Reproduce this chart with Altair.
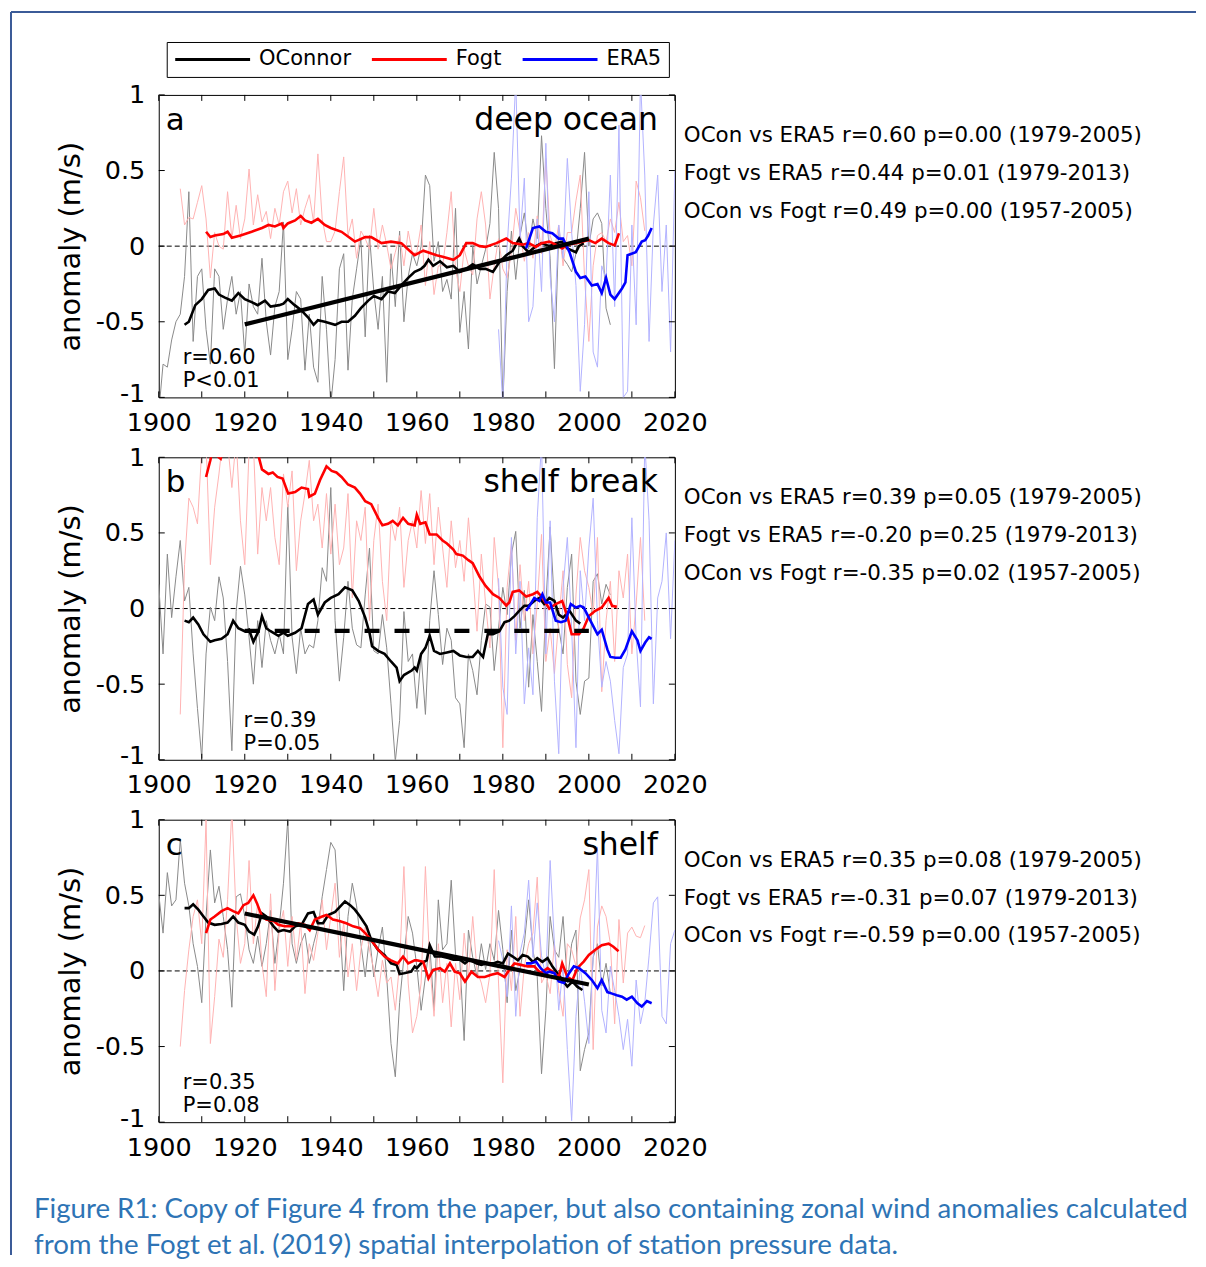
import altair as alt
import pandas as pd

# ---------------- data ----------------
SERIES = ["OConnor", "Fogt", "ERA5"]
YEAR_TICKS = list(range(1900, 2021, 10))
YEAR_LABELS = list(range(1900, 2021, 20))
Y_TICKS = [-1, -0.5, 0, 0.5, 1]
TREND_YEARS = [1920, 2000]

OC_START, FO_START, ER_START = 1900, 1905, 1979

# ---- panel a : deep ocean ----
A_OC_RAW = [-1.10, -0.78, -0.80, -0.62, -0.50, -0.45, -0.20, 0.36, -0.63, -0.20,
            -0.15, -0.55, -0.78, -0.15, -0.20, -0.55, -0.35, -0.20, -0.45, -0.30,
            -0.72, -0.25, -0.40, -0.45, -0.08, -0.50, -0.72, -0.40, -0.30, 0.16,
            -0.75, -0.55, -0.30, -0.35, -0.82, -0.45, -0.80, -0.90, -0.20, -0.55,
            -1.05, -0.75, -0.15, -0.05, -0.82, -0.35, -0.15, 0.05, -0.60, 0.07,
            -0.30, -0.55, -0.20, -0.90, -0.05, -0.40, 0.10, -0.50, -0.20, -0.05,
            -0.13, 0.00, 0.47, 0.40, -0.10, 0.03, -0.30, -0.22, -0.35, 0.25,
            -0.57, -0.30, -0.68, 0.00, -0.25, -0.13, -0.02, 0.15, 0.62, 0.25,
            -1.05, -0.30, 0.10, -0.22, 0.07, 0.22, -0.02, 0.18, 0.05, 0.73,
            0.25, -0.08, -0.81, 0.10, -0.08, -0.12, -0.17, -0.05, 0.25, 0.62,
            0.00, 0.18, 0.22, 0.15, -0.41, -0.52]
A_FO_RAW = [0.38, 0.14, 0.19, 0.18, 0.29,
            0.40, 0.18, -0.21, 0.09, 0.00, -0.02, 0.36, 0.05, 0.27, 0.05,
            0.18, 0.51, 0.14, 0.34, 0.16, 0.23, 0.05, 0.25, 0.14, 0.36,
            0.43, 0.22, 0.38, 0.14, 0.25, 0.34, 0.16, 0.61, 0.18, 0.03,
            0.03, 0.10, 0.36, 0.59, 0.07, 0.18, -0.08, 0.10, 0.05, -0.02,
            0.25, -0.02, 0.14, 0.01, -0.15, -0.04, 0.07, -0.13, 0.10, -0.05,
            -0.04, 0.14, -0.26, 0.03, -0.32, -0.13, -0.13, 0.09, 0.36, -0.15,
            -0.30, -0.02, -0.13, -0.19, 0.18, 0.36, 0.14, -0.35, -0.13, 0.05,
            -0.15, -0.21, -0.04, 0.25, 0.09, -0.10, 0.09, -0.08, 0.20, -0.05,
            0.58, 0.07, -0.02, 0.14, -0.13, 0.09, 0.09, 0.30, 0.47, -0.21,
            -0.63, -0.13, 0.07, 0.09, 0.03, 0.18, 0.09, 0.29, 0.03, 0.07, -0.13, 0.43, 0.32, 0.10]
A_ER_RAW = [-0.55, -1.05, 0.00, 0.45, 1.10, 0.05, 0.45, -0.50, -0.40, 0.18,
            -0.30, 0.68, -0.20, -0.50, 0.14, -0.08, 0.58, 0.09, -0.26, -0.96,
            -0.52, 0.36, -0.70, -0.80, -0.13, -0.22, 0.47, -0.40, 0.80, -1.00,
            -0.96, 0.14, -0.52, 1.10, 0.47, -0.63, 0.14, 0.47, -0.30, 0.14,
            -0.70, 0.50]
A_OC_SM = [(1906, -0.52), (1907, -0.50), (1908.5, -0.39), (1910, -0.35), (1911.5, -0.29), (1913, -0.28),
           (1914, -0.32), (1915.4, -0.34), (1917, -0.36), (1918.5, -0.31), (1920, -0.35), (1921.6, -0.37),
           (1923, -0.39), (1924.7, -0.36), (1926, -0.40), (1928, -0.39), (1929, -0.38), (1930, -0.35),
           (1931.6, -0.39), (1933, -0.42), (1934.7, -0.47), (1936, -0.52), (1937, -0.49), (1938.6, -0.50),
           (1941, -0.52), (1942.5, -0.50), (1944, -0.50), (1945.6, -0.46), (1947, -0.41), (1948.7, -0.36),
           (1950, -0.33), (1951.8, -0.35), (1953.3, -0.30), (1954.9, -0.31), (1956.4, -0.26), (1958, -0.21),
           (1959.5, -0.17), (1961, -0.15), (1961.8, -0.13), (1962.7, -0.09), (1963.8, -0.13), (1965.4, -0.10),
           (1967, -0.14), (1968.5, -0.13), (1970, -0.17), (1971.5, -0.15), (1973, -0.12), (1974.6, -0.15),
           (1976, -0.15), (1977.7, -0.17), (1979.2, -0.105), (1980.8, -0.06), (1982.3, -0.03), (1983.8, 0.05),
           (1984.6, 0.0), (1986, -0.04), (1987.7, 0.0), (1989, 0.02), (1990.8, 0.0), (1992.3, 0.02),
           (1993.8, 0.03), (1995, -0.015), (1997, -0.04), (1997.7, 0.0), (1998.8, 0.02)]
A_FO_SM = [(1911, 0.095), (1912, 0.06), (1913, 0.07), (1915, 0.08), (1916, 0.095), (1917, 0.055),
           (1919, 0.07), (1921.6, 0.095), (1924, 0.12), (1925.5, 0.14), (1927, 0.13), (1928.6, 0.15),
           (1929, 0.12), (1930, 0.15), (1931.7, 0.17), (1933, 0.20), (1934, 0.17), (1935.5, 0.155),
           (1937, 0.18), (1938.6, 0.14), (1940, 0.12), (1942.5, 0.095), (1945.6, 0.03), (1948, 0.06),
           (1949.4, 0.06), (1951.8, 0.02), (1954, 0.03), (1956.4, 0.02), (1958.7, -0.04), (1959.5, -0.06),
           (1961.5, -0.03), (1964.6, -0.06), (1966, -0.07), (1968.5, -0.09), (1970, -0.06), (1971.5, 0.02),
           (1973, 0.02), (1974.6, 0.0), (1976, -0.005), (1978.5, 0.02), (1980.8, 0.05), (1982.3, 0.02),
           (1984.6, 0.01), (1986, 0.02), (1987.7, -0.005), (1989, 0.02), (1990.8, 0.03), (1992.3, 0.01),
           (1993.8, -0.015), (1995, 0.01), (1997, 0.02), (1998.5, 0.03), (2000, 0.04), (2001.5, 0.02),
           (2003, 0.05), (2004.6, 0.02), (2006, 0.005), (2007, 0.085)]
A_ER_SM = [(1985.4, -0.015), (1987, 0.12), (1988.5, 0.13), (1990, 0.095), (1991.5, 0.085), (1993, 0.05),
           (1994, 0.05), (1995.5, -0.04), (1997, -0.17), (1998, -0.21), (1999.2, -0.20), (2000.7, -0.26),
           (2002, -0.25), (2003, -0.31), (2004, -0.21), (2005, -0.32), (2006, -0.35), (2007.7, -0.28),
           (2008.5, -0.24), (2009, -0.06), (2010.9, -0.04), (2012.3, 0.03), (2013.1, 0.04), (2013.8, 0.07),
           (2014.6, 0.12)]
A_TREND = [-0.517, 0.05]

# ---- panel b : shelf break ----
B_OC_RAW = [0.16, -0.30, 0.36, -0.06, 0.21, 0.45, 0.05, 0.14, -0.30, -0.66,
            -0.99, -0.30, 0.01, -0.08, 0.21, 0.07, -0.35, -0.94, -0.02, 0.28,
            0.09, -0.19, -0.50, -0.08, -0.39, -0.08, -0.21, -0.30, -0.17, -0.30,
            0.69, -0.19, -0.43, -0.13, -0.30, -0.24, -0.26, -0.08, 0.27, 0.18,
            0.80, -0.08, -0.48, -0.19, 0.18, -0.13, -0.24, -0.26, 0.09, 0.40,
            -0.28, -0.30, -0.04, -0.26, -0.63, -1.01, -0.74, -0.02, -0.35, -0.30,
            -0.66, -0.30, -0.70, -0.08, 0.25, -0.04, -0.37, -0.13, -0.21, -0.59,
            -0.63, -0.92, -0.30, -0.41, -0.57, -0.21, 0.03, 0.01, -0.41, -0.13,
            0.14, -0.04, 0.36, 0.51, -0.13, 0.12, -0.52, -0.04, -0.35, -0.68,
            0.03, 0.54, 0.03, -0.13, -0.30, 0.14, 0.36, -0.48, -0.70, -0.48,
            -0.46, 0.18, 0.23, 0.03, 0.16, 0.09]
B_FO_RAW = [-0.70, 0.29, 0.73, 0.67, 0.56,
            1.05, 1.10, 0.29, 0.67, 0.89, 1.15, 1.10, 0.80, 1.12, 0.58,
            0.29, 1.05, 1.10, 0.36, 0.80, 0.58, 0.80, 0.47, 0.29, 0.89,
            0.67, 0.91, 0.25, 0.58, 0.76, 0.98, 0.58, 0.69, 0.40, 0.76,
            0.36, 0.69, 0.29, 0.40, 0.76, 0.07, 0.58, 0.45, 0.67, -0.08,
            0.45, 0.69, 0.18, -0.08, 0.58, 0.45, 0.67, 0.14, 0.45, 0.58,
            0.40, 0.78, 0.43, 0.76, 0.29, 0.67, 0.40, 0.14, 0.58, 0.27,
            0.45, 0.18, 0.60, 0.25, -0.15, 0.36, 0.03, -0.26, 0.47, 0.14,
            -0.92, 0.14, 0.43, -0.21, 0.29, -0.08, 0.18, -0.30, 0.03, 0.49,
            -0.35, -0.13, -0.43, -0.08, 0.25, -0.37, -0.59, 0.09, 0.47, 0.25,
            0.14, -0.04, 0.47, -0.55, -0.08, 0.18, -0.35, 0.25, 0.07, 0.36, -0.30, 0.03, 0.47, -0.08]
B_ER_RAW = [0.20, -0.52, -0.70, 0.47, -0.30, 0.18, -0.63, -0.26, -0.57, 0.60,
            1.10, -0.30, 0.58, -0.48, -0.96, 0.14, 0.47, -0.13, -0.92, 0.25,
            -0.08, 0.40, 0.73, -0.08, -0.52, -0.35, -0.48, -0.74, -0.96, -0.39,
            -0.30, 0.60, -0.20, -0.65, 1.10, 0.58, -0.63, 0.07, 0.18, 0.50,
            -0.20, 0.45]
B_OC_SM = [(1906, -0.08), (1907, -0.09), (1908, -0.06), (1909.2, -0.105), (1910.4, -0.17), (1912, -0.22),
           (1913, -0.21), (1914.6, -0.20), (1916, -0.17), (1917.3, -0.08), (1918.5, -0.13), (1920, -0.15),
           (1921, -0.14), (1922, -0.22), (1923.2, -0.15), (1924, -0.05), (1925, -0.13), (1926, -0.15),
           (1927.8, -0.18), (1929, -0.16), (1930, -0.18), (1931.7, -0.16), (1933.2, -0.13), (1934.7, 0.03),
           (1936, 0.06), (1937, -0.04), (1938.6, 0.04), (1940, 0.07), (1941.8, 0.095), (1943.3, 0.14),
           (1945, 0.12), (1946.5, 0.05), (1948, -0.06), (1949, -0.16), (1949.6, -0.25), (1951, -0.28),
           (1952.5, -0.30), (1954, -0.35), (1955.3, -0.39), (1956, -0.48), (1957, -0.44), (1958.8, -0.41),
           (1959.5, -0.39), (1960, -0.41), (1961, -0.30), (1962, -0.26), (1963, -0.18), (1964, -0.28),
           (1965.4, -0.30), (1967, -0.29), (1968.5, -0.28), (1970, -0.31), (1971.5, -0.32), (1973, -0.32),
           (1974.2, -0.28), (1975.4, -0.32), (1976.5, -0.17), (1977.7, -0.17), (1979.2, -0.15), (1980.4, -0.09),
           (1981.5, -0.08), (1982.7, -0.05), (1983.8, -0.015), (1985, 0.018), (1986, 0.018), (1987.3, 0.05),
           (1988.5, 0.07), (1989.6, 0.03), (1990.8, 0.07), (1992, 0.05), (1993, -0.04), (1994, -0.06),
           (1995.5, -0.015), (1997, -0.08), (1998, -0.10)]
B_FO_SM = [(1911, 0.87), (1912, 0.98), (1912.5, 1.05), (1913.5, 1.01), (1914.4, 0.99), (1915, 1.05),
           (1918, 1.10), (1921, 1.08), (1923.1, 1.02), (1924, 0.92), (1925.5, 0.89), (1926.5, 0.90),
           (1927.6, 0.87), (1928.8, 0.86), (1930.1, 0.76), (1931.7, 0.77), (1933.2, 0.80), (1934.7, 0.79),
           (1935, 0.74), (1936.3, 0.76), (1937.5, 0.85), (1939, 0.94), (1940.2, 0.91), (1941.3, 0.90),
           (1942.5, 0.87), (1944, 0.82), (1945.6, 0.80), (1946.8, 0.76), (1948, 0.71), (1949.4, 0.69),
           (1951, 0.60), (1952, 0.55), (1953.3, 0.56), (1954.4, 0.58), (1955.6, 0.55), (1956.8, 0.60),
           (1958, 0.56), (1959.5, 0.55), (1960, 0.62), (1960.8, 0.56), (1962, 0.57), (1963, 0.49),
           (1964.6, 0.49), (1966, 0.45), (1967, 0.43), (1968.5, 0.39), (1969.2, 0.36), (1970.7, 0.35),
           (1972, 0.32), (1973, 0.30), (1974.6, 0.21), (1976, 0.15), (1977.7, 0.095), (1979.2, 0.07),
           (1980.8, 0.02), (1981.5, 0.04), (1982.3, 0.11), (1983.8, 0.12), (1985.4, 0.08), (1987, 0.095),
           (1988, 0.11), (1989, 0.08), (1990.8, 0.0), (1992.3, 0.03), (1993.8, 0.05), (1995, -0.05),
           (1996, -0.17), (1997.7, -0.17), (1998.8, -0.13), (2000, -0.05), (2001.5, -0.015), (2003, 0.007),
           (2004.6, 0.07), (2005.4, 0.018), (2006.5, 0.011)]
B_ER_SM = [(1985.4, -0.015), (1986.2, 0.018), (1987.3, 0.07), (1988.5, 0.05), (1989.2, 0.095), (1990, 0.04),
           (1991, 0.04), (1992.3, -0.08), (1993.5, -0.09), (1994.6, -0.08), (1995.8, 0.03), (1997, 0.007),
           (1998, 0.018), (1998.8, 0.007), (2000, -0.06), (2001.2, -0.126), (2002, -0.17), (2003, -0.14),
           (2004.3, -0.27), (2005, -0.32), (2006.2, -0.325), (2007.4, -0.325), (2008.5, -0.27), (2010, -0.15),
           (2011.3, -0.21), (2012, -0.28), (2013.1, -0.225), (2014, -0.19), (2014.6, -0.20)]
B_TREND = [-0.148, -0.148]

# ---- panel c : shelf ----
C_OC_RAW = [0.51, 0.25, 0.65, 0.43, 0.47, 0.87, 0.58, 0.43, 0.18, 0.03,
            -0.21, 0.36, 0.80, 0.45, 0.56, 0.36, 0.14, -0.24, 0.49, 0.51,
            0.36, 0.14, 0.05, 0.23, 0.03, 0.18, 0.40, 0.05, 0.29, 0.58,
            1.00, 0.18, 0.05, 0.18, 0.25, 0.05, 0.18, 0.29, 0.49, 0.67,
            0.85, 0.80, 0.36, -0.13, 0.36, 0.58, 0.43, 0.18, -0.04, 0.23,
            -0.04, 0.14, 0.29, -0.04, -0.48, -0.70, -0.21, 0.09, 0.36, 0.25,
            0.03, -0.26, -0.04, 0.18, -0.26, 0.47, 0.14, 0.18, 0.60, 0.11,
            0.07, -0.46, 0.27, 0.09, -0.04, 0.18, 0.01, 0.18, 0.07, 0.40,
            0.14, -0.21, 0.27, -0.13, 0.01, 0.18, 0.47, 0.14, -0.04, -0.68,
            -0.26, 0.36, 0.14, 0.09, 0.36, -0.08, 0.18, 0.27, -0.66, -0.52,
            -0.41, 0.09, 0.18, -0.10, 0.05, -0.15]
C_FO_RAW = [-0.50, -0.13, 0.14, 0.36, 0.47,
            0.18, 1.00, -0.48, -0.17, 0.21, 0.09, 0.47, 1.07, 0.36, 0.05,
            0.18, 0.73, 0.18, 0.45, 0.05, -0.17, 0.51, -0.13, 0.27, 0.40,
            0.03, 0.36, 0.07, 0.32, -0.15, 0.18, 0.07, 0.25, 0.47, 0.14,
            0.36, 0.58, 0.09, 0.32, -0.04, 0.18, -0.13, 0.14, 0.29, 0.14,
            0.01, -0.17, 0.07, -0.08, -0.04, -0.26, 0.05, 0.69, -0.08, -0.41,
            -0.30, -0.08, 0.69, 0.05, -0.30, 0.18, -0.21, 0.05, -0.37, 0.05,
            -0.19, 0.25, -0.04, 0.36, 0.00, -0.08, -0.21, -0.02, 0.67, -0.08,
            -0.74, 0.14, -0.13, 0.36, -0.30, 0.03, 0.18, 0.25, 0.62, -0.08,
            -0.02, -0.15, 0.18, -0.13, -0.30, 0.18, 0.14, 0.03, 0.35, 0.47,
            0.67, -0.52, 0.29, 0.43, 0.36, 0.18, -0.35, 0.34, -0.08, 0.25, 0.29, 0.23, 0.22, 0.30]
C_ER_RAW = [0.20, 0.07, -0.17, 0.43, -0.30, 0.12, 0.25, 0.60, 0.09, 0.45,
            0.10, -0.04, 0.73, 0.18, -0.26, 0.03, -0.52, -0.99, -0.30, 0.03,
            -0.20, -0.48, 0.09, 0.82, -0.26, -0.41, 0.03, -0.13, -0.30, -0.52,
            -0.32, -0.63, -0.06, -0.35, -0.21, 0.10, 0.45, 0.49, -0.30, -0.35,
            0.18, 0.27]
C_OC_SM = [(1906, 0.415), (1907, 0.415), (1908, 0.44), (1909.2, 0.405), (1910.4, 0.36), (1911.5, 0.32),
           (1913, 0.305), (1914.6, 0.31), (1916, 0.32), (1917.3, 0.36), (1918.5, 0.32), (1920, 0.305),
           (1921, 0.26), (1922.2, 0.24), (1923.1, 0.295), (1924, 0.38), (1925, 0.36), (1926.7, 0.295),
           (1927.8, 0.26), (1929, 0.27), (1930.5, 0.26), (1931.7, 0.295), (1933.2, 0.305), (1934.7, 0.38),
           (1936, 0.39), (1937, 0.315), (1938.2, 0.315), (1939.4, 0.37), (1941, 0.39), (1942, 0.42),
           (1943.3, 0.46), (1944.5, 0.435), (1945.6, 0.405), (1946.8, 0.36), (1948.3, 0.295), (1949.4, 0.205),
           (1951, 0.14), (1952.5, 0.105), (1954, 0.05), (1955.3, 0.04), (1956, -0.02), (1957, -0.015),
           (1958.7, -0.005), (1959.5, 0.03), (1960, 0.018), (1961, 0.05), (1962.3, 0.07), (1963, 0.17),
           (1964.2, 0.095), (1965.8, 0.095), (1967.3, 0.085), (1968.5, 0.075), (1970, 0.075), (1971.2, 0.05),
           (1972.3, 0.075), (1973.8, 0.05), (1975, 0.04), (1976.2, 0.05), (1977.7, 0.05), (1978.8, 0.06),
           (1980, 0.05), (1981.2, 0.115), (1982.3, 0.095), (1983.5, 0.07), (1984.6, 0.105), (1985.8, 0.095),
           (1987, 0.06), (1988, 0.085), (1989.2, 0.06), (1990.4, 0.085), (1991.5, 0.03), (1992.7, -0.015),
           (1993.8, -0.06), (1995, -0.104), (1996.2, -0.07), (1997.3, -0.104), (1998.5, -0.126)]
C_FO_SM = [(1911, 0.25), (1912, 0.34), (1913, 0.36), (1914.6, 0.395), (1916, 0.415), (1917.3, 0.395),
           (1918.5, 0.38), (1919.7, 0.435), (1920.8, 0.45), (1922, 0.50), (1922.8, 0.45), (1924, 0.36),
           (1925, 0.34), (1926.7, 0.33), (1927.8, 0.305), (1929.3, 0.295), (1930.9, 0.295), (1932.4, 0.315),
           (1934, 0.305), (1935.1, 0.27), (1936.3, 0.34), (1938, 0.36), (1939, 0.37), (1940.5, 0.34),
           (1942, 0.33), (1943.6, 0.315), (1945.2, 0.295), (1946.8, 0.283), (1948, 0.25), (1949.4, 0.205),
           (1951, 0.14), (1952.5, 0.095), (1954, 0.07), (1955.6, 0.05), (1956.8, 0.095), (1958, 0.05),
           (1959.5, 0.07), (1960, 0.07), (1961.5, 0.06), (1962.7, -0.05), (1963.8, 0.007), (1965.4, 0.018),
           (1966.5, -0.005), (1967.7, 0.05), (1968.8, -0.005), (1970, -0.015), (1971.2, -0.07), (1972.7, -0.005),
           (1974.2, -0.04), (1975.8, -0.04), (1977.3, -0.026), (1978.8, -0.015), (1980.4, -0.04), (1981.5, 0.007),
           (1982.7, 0.05), (1984.2, 0.04), (1985.8, 0.03), (1987.3, 0.03), (1988.8, -0.015), (1990.4, 0.018),
           (1992, -0.015), (1993, -0.04), (1993.8, 0.05), (1995, -0.04), (1996.2, -0.06), (1997.3, 0.018),
           (1998.8, 0.062), (2000, 0.106), (2001.5, 0.14), (2003, 0.17), (2004.6, 0.18), (2005.7, 0.16),
           (2006.9, 0.13)]
C_ER_SM = [(1985.4, 0.05), (1986.5, 0.05), (1987.7, 0.062), (1988.8, 0.018), (1990, -0.015), (1990.8, -0.005),
           (1992, -0.015), (1993, -0.07), (1994.2, -0.08), (1995.4, -0.015), (1996.5, 0.03), (1997.7, 0.018),
           (1999.2, -0.015), (2000.7, -0.06), (2002, -0.115), (2003, -0.06), (2004.3, -0.14), (2005.4, -0.15),
           (2006.5, -0.16), (2007.7, -0.17), (2008.8, -0.19), (2010, -0.17), (2011.3, -0.214), (2012.3, -0.236),
           (2013.5, -0.20), (2014.6, -0.214)]
C_TREND = [0.38, -0.09]

LETTERS = ["a", "b", "c"]
REGIONS = ["deep ocean", "shelf break", "shelf"]
FIT_TEXT = ["r=0.60\nP<0.01", "r=0.39\nP=0.05", "r=0.35\nP=0.08"]
STATS = [
    "OCon vs ERA5 r=0.60 p=0.00 (1979-2005)\nFogt vs ERA5 r=0.44 p=0.01 (1979-2013)\nOCon vs Fogt r=0.49 p=0.00 (1957-2005)",
    "OCon vs ERA5 r=0.39 p=0.05 (1979-2005)\nFogt vs ERA5 r=-0.20 p=0.25 (1979-2013)\nOCon vs Fogt r=-0.35 p=0.02 (1957-2005)",
    "OCon vs ERA5 r=0.35 p=0.08 (1979-2005)\nFogt vs ERA5 r=-0.31 p=0.07 (1979-2013)\nOCon vs Fogt r=-0.59 p=0.00 (1957-2005)",
]
CAPTION = ("Figure R1: Copy of Figure 4 from the paper, but also containing zonal wind anomalies calculated\n"
           "from the Fogt et al. (2019) spatial interpolation of station pressure data.")

# ---------------- styling ----------------
W, H = 517, 303
FONT = "DejaVu Sans"
SMOOTH_COLORS = ["#000000", "#ff0000", "#0000ff"]
RAW_COLORS = ["#8a8a8a", "#ffb3b3", "#b3b3ff"]
BORDER = "#3b5b98"
CAPTION_COLOR = "#2e74b5"

xaxis = alt.Axis(values=YEAR_LABELS, format="d", title=None, grid=False, domain=False,
                 ticks=False, tickSize=0, labelFont=FONT, labelFontSize=25.5, labelPadding=13,
                 labelColor="black", labelFlush=False, labelOverlap=False)
# the bottom "-1" label sits on its baseline so that it clears the year labels below it
yaxis = alt.Axis(values=Y_TICKS, title="anomaly (m/s)", grid=False, domain=False, ticks=False,
                 tickSize=0, labelFont=FONT, labelFontSize=25.5, labelPadding=14, labelColor="black",
                 labelExpr="replace(format(datum.value, '~g'), '\u2212', '-')",
                 labelBaseline={"condition": {"test": "datum.value == -1", "value": "alphabetic"},
                                "value": "middle"},
                 labelOffset={"condition": {"test": "datum.value == -1", "value": 4}, "value": 0},
                 titleFont=FONT, titleFontSize=29, titleFontWeight="normal", titleColor="black",
                 titlePadding=10)
X = alt.X("year:Q", scale=alt.Scale(domain=[1900, 2020], nice=False, zero=False), axis=xaxis)
Y = alt.Y("v:Q", scale=alt.Scale(domain=[-1, 1], nice=False, zero=False), axis=yaxis)


def raw_df(start, vals):
    return pd.DataFrame({"year": list(range(start, start + len(vals))), "v": vals})


def sm_df(pairs, name):
    d = pd.DataFrame(pairs, columns=["year", "v"])
    d["series"] = name
    return d


def text_layer(s, x, y, size, align="left", line_height=None, color="black", font=FONT):
    kw = dict(align=align, baseline="alphabetic", fontSize=size, font=font, color=color)
    if line_height:
        kw.update(lineBreak="\n", lineHeight=line_height)
    return alt.Chart(pd.DataFrame({"t": [s]})).mark_text(**kw).encode(
        text="t:N", x=alt.value(x), y=alt.value(y))


def panel(i, oc_raw, fo_raw, er_raw, oc_sm, fo_sm, er_sm, trend, dashed, fit_x, legend, extra):
    layers = []
    zero = alt.Chart(pd.DataFrame({"v": [0]})).mark_rule(
        color="black", strokeWidth=1, strokeDash=[5, 3]).encode(y=Y)
    layers.append(zero)
    for vals, start, col in [(oc_raw, OC_START, RAW_COLORS[0]), (fo_raw, FO_START, RAW_COLORS[1]),
                             (er_raw, ER_START, RAW_COLORS[2])]:
        layers.append(alt.Chart(raw_df(start, vals)).mark_line(
            color=col, strokeWidth=1, clip=True).encode(x=X, y=Y))
    sm = pd.concat([sm_df(oc_sm, SERIES[0]), sm_df(fo_sm, SERIES[1]), sm_df(er_sm, SERIES[2])])
    layers.append(alt.Chart(sm).mark_line(strokeWidth=2.6, clip=True).encode(
        x=X, y=Y,
        color=alt.Color("series:N", scale=alt.Scale(domain=SERIES, range=SMOOTH_COLORS),
                        sort=SERIES, legend=legend)))
    tr = pd.DataFrame({"year": TREND_YEARS, "v": trend})
    tkw = dict(color="black", strokeWidth=4.2, clip=True)
    if dashed:
        tkw["strokeDash"] = [15, 15]
    layers.append(alt.Chart(tr).mark_line(**tkw).encode(x=X, y=Y))
    # inward ticks on all four sides
    xt = alt.Chart(pd.DataFrame({"year": YEAR_TICKS}))
    yt = alt.Chart(pd.DataFrame({"v": Y_TICKS}))
    layers += [
        xt.mark_rule(color="black", strokeWidth=1).encode(x=X, y=alt.value(0), y2=alt.value(6)),
        xt.mark_rule(color="black", strokeWidth=1).encode(x=X, y=alt.value(H), y2=alt.value(H - 6)),
        yt.mark_rule(color="black", strokeWidth=1).encode(y=Y, x=alt.value(0), x2=alt.value(6)),
        yt.mark_rule(color="black", strokeWidth=1).encode(y=Y, x=alt.value(W - 6), x2=alt.value(W)),
    ]
    layers += [
        text_layer(LETTERS[i], 7, 35, 31),
        text_layer(REGIONS[i], 500, 35, 31.5, align="right"),
        text_layer(FIT_TEXT[i], fit_x, 270, 21, line_height=23),
        text_layer(STATS[i], 526, 47, 21.4, line_height=38),
    ]
    layers += extra
    return alt.layer(*layers).properties(width=W, height=H)


legend_a = alt.Legend(orient="none", legendX=8, legendY=-53, direction="horizontal", title=None,
                      symbolType="stroke", symbolStrokeWidth=3, symbolSize=5625, clipHeight=21,
                      labelFont=FONT, labelFontSize=21, labelColor="black", labelOffset=7.5,
                      columnPadding=19, padding=7, strokeColor="black", fillColor="white",
                      cornerRadius=0)

dummy = alt.Chart(pd.DataFrame({"t": ["frame"]}))
border = [
    dummy.mark_rule(color=BORDER, strokeWidth=2).encode(
        x=alt.value(-148), x2=alt.value(1039), y=alt.value(-83)),
    dummy.mark_rule(color=BORDER, strokeWidth=2).encode(
        x=alt.value(-148), y=alt.value(-83), y2=alt.value(1162)),
]
caption = [text_layer(CAPTION, -125, 399, 27.7, line_height=36, color=CAPTION_COLOR, font="Lato")]

pa = panel(0, A_OC_RAW, A_FO_RAW, A_ER_RAW, A_OC_SM, A_FO_SM, A_ER_SM, A_TREND, False, 24, legend_a, border)
pb = panel(1, B_OC_RAW, B_FO_RAW, B_ER_RAW, B_OC_SM, B_FO_SM, B_ER_SM, B_TREND, True, 85, None, [])
pc = panel(2, C_OC_RAW, C_FO_RAW, C_ER_RAW, C_OC_SM, C_FO_SM, C_ER_SM, C_TREND, False, 24, None, caption)

chart = alt.vconcat(pa, pb, pc, spacing=60, bounds="flush").resolve_scale(
    color="independent").properties(
    padding={"left": 1, "top": 1, "right": 0, "bottom": 0}
).configure_view(stroke="black", strokeWidth=1)

chart.save("out.html", embed_options={"renderer": "svg", "actions": False})
